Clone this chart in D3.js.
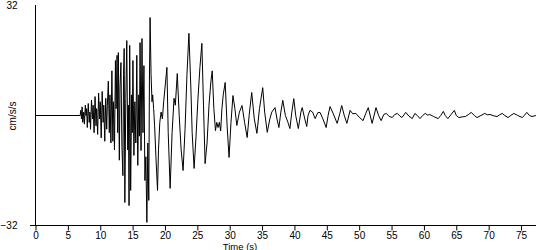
<!DOCTYPE html>
<html><head><meta charset="utf-8">
<script src="https://cdn.jsdelivr.net/npm/d3@7"></script>
<style>
html,body{margin:0;padding:0;background:#fff;}
svg{display:block;}
text{font-family:Arial,"Liberation Sans",sans-serif;fill:#000;}
</style></head>
<body>
<svg id="c" width="550" height="250"></svg>
<script>
const timeS = [0,6.9,7.0,7.1,7.2,7.3,7.45,7.55,7.7,7.8,7.9,8.0,8.15,8.3,8.4,8.5,8.65,8.8,8.9,9.05,9.2,9.35,9.45,9.6,9.75,9.9,10.0,10.15,10.3,10.45,10.55,10.7,10.85,11.0,11.1,11.25,11.4,11.5,11.65,11.8,11.95,12.05,12.2,12.35,12.45,12.6,12.7,12.8,12.95,13.05,13.2,13.35,13.5,13.6,13.7,13.8,13.95,14.1,14.25,14.35,14.45,14.55,14.7,14.85,14.95,15.05,15.2,15.35,15.5,15.65,15.8,15.95,16.05,16.15,16.3,16.45,16.6,16.75,16.9,17.05,17.2,17.35,17.5,17.6,17.7,17.85,18.0,18.1,18.25,18.4,18.6,18.85,19.0,19.2,19.4,19.6,19.8,20.0,20.3,20.5,20.8,21.1,21.4,21.6,21.9,22.2,22.5,22.8,23.1,23.4,23.7,24.0,24.2,24.5,24.8,25.1,25.4,25.7,25.95,26.2,26.5,26.8,27.1,27.3,27.55,27.8,28.0,28.2,28.4,28.6,28.8,29.0,29.3,29.6,29.9,30.2,30.5,30.8,31.1,31.5,31.9,32.3,32.7,33.0,33.4,33.8,34.2,34.6,35.1,35.4,35.8,36.2,36.5,37.0,37.3,37.6,37.9,38.2,38.6,39.0,39.3,39.6,39.9,40.2,40.6,41.0,41.2,41.6,41.9,42.1,42.4,42.8,43.2,43.6,43.95,44.4,44.9,45.2,45.5,46.0,46.6,47.0,47.3,47.7,48.1,48.6,49.0,49.5,50.0,50.6,51.0,51.4,52.0,52.6,53.0,53.4,53.8,54.2,54.6,55.1,55.5,55.9,56.2,56.6,57.2,57.7,58.2,58.6,59.0,59.4,59.8,60.2,60.6,60.9,61.5,62.2,62.6,63.0,63.3,63.7,64.2,64.7,65.0,65.4,65.9,66.4,66.9,67.3,67.8,68.2,68.8,69.4,69.8,70.2,70.8,71.3,71.7,72.1,72.5,73.0,73.4,73.9,74.5,75.2,75.5,75.9,76.3,76.7,77.3];
const accel = [0,0,1.5,-1,2.5,-2,1,-2.5,3,0,2,-3.5,3.5,-2,1,-4,4.5,-1,3,-5,5.5,-3,2,-5.5,6.5,-1,4,-6.5,7,-2,3,-7.5,5,-4,3,10,-5,6,-8,13,-7.5,4,-10,16,2,17.5,-5,18.3,-13,8,15.4,-9,-17.5,12,19.5,-25.3,5,21.8,-10,3,-26.2,20.4,-21.8,6,-5,16,-11.6,4,-8,17.5,-14.5,6,-6,21.2,-10.2,22.4,-5,14.5,-18.9,-12,-31.1,-8,-24.7,10,28.5,12,4,6,2,-3,-12,-21.8,-10,-2,1,-1,4,8,14,-5,-21.2,-5,5,3,12.2,0,-10,-16,-4,12,23.9,8,-5,-15.4,-6,5,14,21,3,-14,-8,3,10,13,2,-4.4,-2,-3.5,-2,-4.5,2,6,9.6,-3,-12.2,-2,5.8,2,-2.9,1,2.9,-2,-6.4,0,6.7,-1,-5.2,2,8.1,1,-4.9,-1,1,2.3,-1,-3.5,1,4.4,0,-2,-3.8,1,4.9,0,-3.8,1,2.3,-1,-3.2,0,1.5,1,-0.9,0.8,0.9,-1,-3.5,0,2.6,0.5,-2.3,0.5,2.9,0,-2.3,1.5,0.5,0.6,-0.5,-1.5,0.5,2.3,-2.3,2.3,0,-1.5,0.3,0.6,-0.2,-0.6,0.3,0.6,0,-0.6,0.9,-0.2,-0.9,0.6,0,-0.9,0,0.6,0.1,0.3,-0.3,-0.9,0,1.2,0,-0.9,0.3,1.5,0,-0.6,-0.4,-0.3,0.3,0.9,0,-0.6,0,0.6,0.2,0.3,-0.1,-0.3,0.2,0.6,0,-0.6,0,0.6,0,-0.6,0,0.9,0,-0.3,0];
const xTicks = [0,5,10,15,20,25,30,35,40,45,50,55,60,65,70,75];
const yTicks = [-32,32];
const xLabel = "Time (s)";
const yLabel = "cm/s/s";

const svg = d3.select("#c");
const x = d3.scaleLinear().domain([0,77.3]).range([35.5,535.9]);
const y = d3.scaleLinear().domain([-32,32]).range([225.5,5.5]);

// trace
const pts = timeS.map((t,i)=>[t,accel[i]]);
svg.append("path").datum(pts)
  .attr("fill","none").attr("stroke","#000").attr("stroke-width",1)
  .attr("d", d3.line().x(d=>x(d[0])).y(d=>y(d[1])));

// x axis
const gx = svg.append("g").attr("transform","translate(0,225.5)")
  .call(d3.axisBottom(x).tickValues(xTicks).tickSize(5).tickSizeOuter(0).tickPadding(1));
gx.select(".domain").remove();
gx.selectAll(".tick line").attr("stroke","#000");
gx.selectAll(".tick text").attr("font-size",10).attr("font-family","Arial, 'Liberation Sans', sans-serif");
svg.append("line").attr("x1",30).attr("x2",536).attr("y1",225.5).attr("y2",225.5).attr("stroke","#000");

// y axis
const gy = svg.append("g").attr("transform","translate(35.5,0)")
  .call(d3.axisLeft(y).tickValues(yTicks).tickSize(0).tickPadding(18));
gy.select(".domain").remove();
gy.selectAll(".tick text").attr("font-size",10).attr("font-family","Arial, 'Liberation Sans', sans-serif");
svg.append("line").attr("x1",35.5).attr("x2",35.5).attr("y1",5).attr("y2",226).attr("stroke","#000");

svg.append("text").attr("x",240).attr("y",249.5).attr("text-anchor","middle").attr("font-size",9.5).text(xLabel);
svg.append("text").attr("transform","translate(16,116) rotate(-90)").attr("text-anchor","middle").attr("font-size",10).text(yLabel);
</script>
</body></html>
